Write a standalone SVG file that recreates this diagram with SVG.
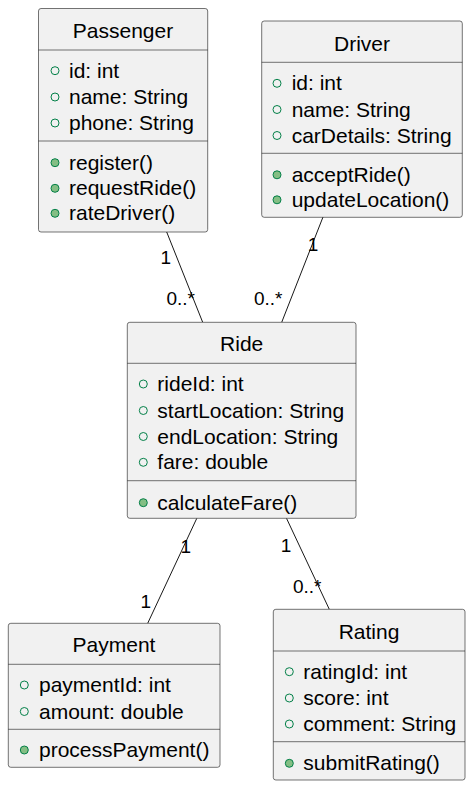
<svg xmlns="http://www.w3.org/2000/svg" width="474" height="786" viewBox="0 0 474 786">
<style>
.box{fill:#F1F1F1;stroke:#181818;stroke-width:0.6}
.sep{stroke:#181818;stroke-width:0.6}
.t{font-family:"Liberation Sans",Arial,sans-serif;font-size:21px;fill:#000}
.title{text-anchor:middle}
.lbl{font-family:"Liberation Sans",Arial,sans-serif;font-size:19px;fill:#000}
.oc{fill:none;stroke:#038048;stroke-width:1}
.fc{fill:#84BE84;stroke:#038048;stroke-width:1}
.edge{stroke:#181818;stroke-width:1;fill:none}
</style>
<rect width="474" height="786" fill="#FFFFFF"/>
<g id="connectors">
<line class="edge" x1="166.7" y1="232" x2="202.7" y2="322.3"/>
<line class="edge" x1="323" y1="217" x2="281.7" y2="322.3"/>
<line class="edge" x1="196.8" y1="518.3" x2="147.7" y2="623.3"/>
<line class="edge" x1="286.5" y1="518.3" x2="329.3" y2="609.3"/>
<text class="lbl" x="165.7" y="264" text-anchor="middle">1</text>
<text class="lbl" x="166.5" y="305">0..*</text>
<text class="lbl" x="313" y="250.5" text-anchor="middle">1</text>
<text class="lbl" x="254" y="305">0..*</text>
<text class="lbl" x="185.7" y="552.5" text-anchor="middle">1</text>
<text class="lbl" x="145.7" y="607.5" text-anchor="middle">1</text>
<text class="lbl" x="286" y="551.5" text-anchor="middle">1</text>
<text class="lbl" x="293" y="593">0..*</text>
</g>
<g id="Passenger">
<rect class="box" x="38.5" y="8.5" width="169.2" height="223.5" rx="2.5"/>
<line class="sep" x1="38.5" y1="50" x2="207.7" y2="50"/>
<line class="sep" x1="38.5" y1="141" x2="207.7" y2="141"/>
<text class="t title" x="123" y="38">Passenger</text>
<circle class="oc" cx="55" cy="70.7" r="4"/><text class="t" x="69" y="77.7">id: int</text>
<circle class="oc" cx="55" cy="97" r="4"/><text class="t" x="69" y="104">name: String</text>
<circle class="oc" cx="55" cy="123" r="4"/><text class="t" x="69" y="130">phone: String</text>
<circle class="fc" cx="55" cy="162.7" r="4"/><text class="t" x="69" y="169.7">register()</text>
<circle class="fc" cx="55" cy="188.3" r="4"/><text class="t" x="69" y="195.3">requestRide()</text>
<circle class="fc" cx="55" cy="213.3" r="4"/><text class="t" x="69" y="220.3">rateDriver()</text>
</g>
<g id="Driver">
<rect class="box" x="261.7" y="21" width="200.6" height="196.3" rx="2.5"/>
<line class="sep" x1="261.7" y1="62.3" x2="462.3" y2="62.3"/>
<line class="sep" x1="261.7" y1="153.3" x2="462.3" y2="153.3"/>
<text class="t title" x="362" y="51.3">Driver</text>
<circle class="oc" cx="277" cy="83.3" r="4"/><text class="t" x="291.7" y="90.3">id: int</text>
<circle class="oc" cx="277" cy="109.5" r="4"/><text class="t" x="291.7" y="116.5">name: String</text>
<circle class="oc" cx="277" cy="135.5" r="4"/><text class="t" x="291.7" y="142.5">carDetails: String</text>
<circle class="fc" cx="277" cy="174.8" r="4"/><text class="t" x="291.7" y="181.8">acceptRide()</text>
<circle class="fc" cx="277" cy="199.8" r="4"/><text class="t" x="291.7" y="206.8">updateLocation()</text>
</g>
<g id="Ride">
<rect class="box" x="127.3" y="322.3" width="228.7" height="196" rx="2.5"/>
<line class="sep" x1="127.3" y1="363.3" x2="356" y2="363.3"/>
<line class="sep" x1="127.3" y1="480.7" x2="356" y2="480.7"/>
<text class="t title" x="241.7" y="351">Ride</text>
<circle class="oc" cx="143.3" cy="384" r="4"/><text class="t" x="157.3" y="391">rideId: int</text>
<circle class="oc" cx="143.3" cy="410.5" r="4"/><text class="t" x="157.3" y="417.5">startLocation: String</text>
<circle class="oc" cx="143.3" cy="436.5" r="4"/><text class="t" x="157.3" y="443.5">endLocation: String</text>
<circle class="oc" cx="143.3" cy="462.3" r="4"/><text class="t" x="157.3" y="469.3">fare: double</text>
<circle class="fc" cx="143.3" cy="502.7" r="4"/><text class="t" x="157.3" y="509.7">calculateFare()</text>
</g>
<g id="Payment">
<rect class="box" x="8.3" y="623.3" width="211.7" height="144" rx="2.5"/>
<line class="sep" x1="8.3" y1="664.3" x2="220" y2="664.3"/>
<line class="sep" x1="8.3" y1="729.3" x2="220" y2="729.3"/>
<text class="t title" x="114" y="652">Payment</text>
<circle class="oc" cx="24.3" cy="685" r="4"/><text class="t" x="39" y="692">paymentId: int</text>
<circle class="oc" cx="24.3" cy="711.5" r="4"/><text class="t" x="39" y="718.5">amount: double</text>
<circle class="fc" cx="24.3" cy="750" r="4"/><text class="t" x="39" y="757">processPayment()</text>
</g>
<g id="Rating">
<rect class="box" x="273.3" y="609.3" width="191.7" height="170.7" rx="2.5"/>
<line class="sep" x1="273.3" y1="651" x2="465" y2="651"/>
<line class="sep" x1="273.3" y1="741.7" x2="465" y2="741.7"/>
<text class="t title" x="369" y="639.3">Rating</text>
<circle class="oc" cx="289.3" cy="671.7" r="4"/><text class="t" x="303.3" y="678.7">ratingId: int</text>
<circle class="oc" cx="289.3" cy="698" r="4"/><text class="t" x="303.3" y="705">score: int</text>
<circle class="oc" cx="289.3" cy="724" r="4"/><text class="t" x="303.3" y="731">comment: String</text>
<circle class="fc" cx="289.3" cy="763.3" r="4"/><text class="t" x="303.3" y="770.3">submitRating()</text>
</g>
</svg>
